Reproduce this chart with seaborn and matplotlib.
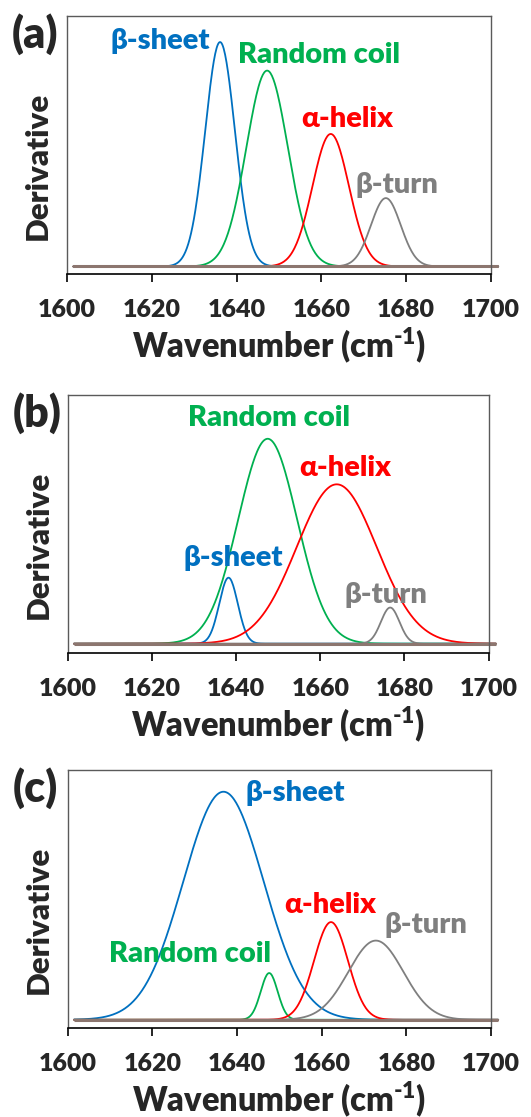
"""Second-derivative band fitting of the amide I region, three samples."""
import numpy as np
import pandas as pd
import seaborn as sns
import matplotlib.pyplot as plt

components = ["β-sheet", "Random coil", "α-helix", "β-turn"]
colors = ["#0070C0", "#00B050", "#FF0000", "#7F7F7F"]

# fitted bands: centre (cm-1), height (a.u.), width (sigma, cm-1)
a_centers = [1636.1, 1647.2, 1662.2, 1675.2]
a_heights = [0.896, 0.782, 0.529, 0.273]
a_widths = [3.5, 4.9, 4.3, 3.5]

b_centers = [1638.2, 1647.5, 1663.9, 1676.6]
b_heights = [0.265, 0.823, 0.640, 0.145]
b_widths = [2.2, 7.0, 9.5, 2.2]

c_centers = [1636.8, 1647.6, 1662.2, 1672.8]
c_heights = [0.913, 0.187, 0.391, 0.317]
c_widths = [9.5, 2.0, 4.0, 6.5]

wavenumber = np.linspace(1601.5, 1701.7, 600)

panels = [
    ("(a)", a_centers, a_heights, a_widths),
    ("(b)", b_centers, b_heights, b_widths),
    ("(c)", c_centers, c_heights, c_widths),
]

# label anchor (x in cm-1, baseline y in a.u.) per panel, same order as components
label_pos = [
    [(1622.0, 0.867), (1659.4, 0.811), (1666.0, 0.558), (1677.8, 0.295)],
    [(1639.4, 0.312), (1647.9, 0.873), (1666.0, 0.673), (1675.5, 0.165)],
    [(1653.7, 0.875), (1628.8, 0.231), (1662.0, 0.428), (1684.6, 0.348)],
]

# axes boxes in pixels: left, right, top, bottom
boxes = [(67, 491, 16, 274), (67.7, 488.7, 394.7, 653), (67.7, 491, 770, 1028)]
ylims = [(-0.030, 1.0), (-0.0375, 1.0), (-0.033, 1.0)]

sns.set_style("white")
plt.rcParams["font.family"] = ["Lato", "DejaVu Sans"]
plt.rcParams["font.weight"] = "heavy"
plt.rcParams["mathtext.fontset"] = "custom"
plt.rcParams["mathtext.bf"] = "Lato:heavy"
plt.rcParams["mathtext.rm"] = "Lato:heavy"
plt.rcParams["mathtext.default"] = "bf"

W, H = 531, 1117
fig = plt.figure(figsize=(W / 100, H / 100), dpi=100)

for i, (tag, centers, heights, widths) in enumerate(panels):
    l, r, t, b = boxes[i]
    ax = fig.add_axes([l / W, 1 - b / H, (r - l) / W, (b - t) / H])

    rows = []
    for name, c, h, w in zip(components, centers, heights, widths):
        y = h * np.exp(-((wavenumber - c) ** 2) / (2 * w ** 2))
        rows.append(pd.DataFrame({"x": wavenumber, "y": y, "band": name}))
    df = pd.concat(rows)

    sns.lineplot(data=df, x="x", y="y", hue="band", palette=dict(zip(components, colors)),
                 linewidth=1.3, legend=False, ax=ax, clip_on=False)
    ax.plot(wavenumber, np.zeros_like(wavenumber), color="#8c766f", lw=2.2,
            solid_capstyle="butt", clip_on=False)

    ax.set_xlim(1600, 1700)
    ax.set_ylim(*ylims[i])
    ax.set_xticks(range(1600, 1701, 20))
    ax.set_yticks([])
    ax.tick_params(axis="x", direction="out", length=6, width=1.2, color="black",
                   pad=12, labelsize=18, bottom=True)
    for lab in ax.get_xticklabels():
        lab.set_fontweight("heavy")
    for side in ["left", "top", "right"]:
        ax.spines[side].set_color("#5a5a5a")
        ax.spines[side].set_linewidth(1.0)
    ax.spines["bottom"].set_color("black")
    ax.spines["bottom"].set_linewidth(1.2)

    ax.set_xlabel(r"Wavenumber (cm$^{\text{-}1}$)", fontsize=23.5, fontweight="heavy",
                  labelpad=3)
    ax.set_ylabel("Derivative", fontsize=22.5, fontweight="heavy")
    ax.yaxis.set_label_coords(-0.035, 0.42)

    for name, color, (lx, ly) in zip(components, colors, label_pos[i]):
        ax.text(lx, ly, name, color=color, fontsize=21, fontweight="heavy",
                ha="center", va="baseline")

    ax.text(-0.13, 1.01, tag, transform=ax.transAxes, fontsize=31, fontweight="heavy",
            ha="left", va="top")

fig.savefig("out.png", dpi=100)
